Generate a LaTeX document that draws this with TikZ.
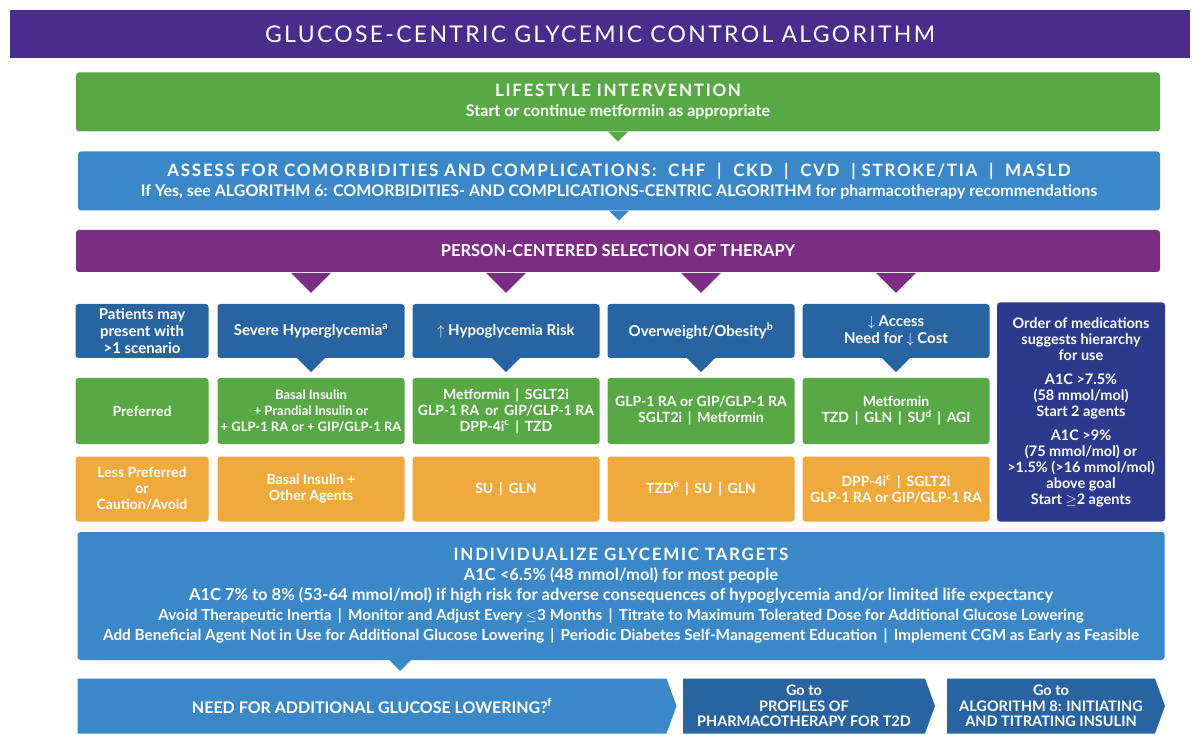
\documentclass[tikz,border=0pt]{standalone}
\usepackage{fontspec}
\setmainfont{Lato}
\newfontfamily\spaced[LetterSpace=10]{Lato}
\usetikzlibrary{shapes.symbols, positioning}
\definecolor{titlepurple}{HTML}{4A2C8C}
\definecolor{lifegreen}{HTML}{58A846}
\definecolor{midblue}{HTML}{3B88C8}
\definecolor{plum}{HTML}{7B2E84}
\definecolor{darkblue}{HTML}{2964A2}
\definecolor{navy}{HTML}{2C3A8E}
\definecolor{amber}{HTML}{EFA93D}
\tikzset{
  box/.style={rectangle, rounded corners=3pt, text=white, font=\bfseries\fontsize{14}{16}\selectfont, align=center, inner sep=0pt},
  band/.style={box, minimum width=1084pt},
  hdr/.style={box, fill=darkblue, minimum height=54pt, font=\bfseries\fontsize{15}{17}\selectfont},
  grn/.style={box, fill=lifegreen, minimum height=66pt},
  org/.style={box, fill=amber, minimum height=65pt},
  goarrow/.style={signal, signal to=east, signal pointer angle=140, text=white, font=\bfseries\fontsize{14.5}{15.5}\selectfont, align=center, inner sep=0pt, minimum height=55pt}
}
\newcommand{\notch}[3]{\fill[#1] (#2) ++(-#3,0) -- ++(#3,#3) -- ++(#3,-#3) -- cycle;}
\begin{document}
\begin{tikzpicture}[x=1pt, y=-1pt]
\useasboundingbox (0,0) rectangle (1200,735);
\fill[white] (0,0) rectangle (1200,735);

% Title and bands
\node (title) [box, rounded corners=0pt, fill=titlepurple, minimum width=1180pt, minimum height=48pt, font=\spaced\fontsize{23}{26}\selectfont] at (600,34) {GLUCOSE-CENTRIC GLYCEMIC CONTROL ALGORITHM};
\node (life) [band, fill=lifegreen, minimum height=59pt, font=\bfseries\fontsize{16}{18}\selectfont] at (618,102) {{\spaced\fontsize{17}{19}\selectfont LIFESTYLE INTERVENTION}\\[2pt] Start or continue metformin as appropriate};
\notch{lifegreen}{life.south}{10}
\node (assess) [band, fill=midblue, minimum height=59pt, minimum width=1082pt, font=\bfseries\fontsize{16}{18}\selectfont] at (619,181) {{\spaced\fontsize{17}{19}\selectfont ASSESS FOR COMORBIDITIES AND COMPLICATIONS:\ \ CHF \ | \ CKD \ | \ CVD \ | STROKE/TIA \ | \ MASLD}\\[2pt] If Yes, see ALGORITHM 6: COMORBIDITIES- AND COMPLICATIONS-CENTRIC ALGORITHM for pharmacotherapy recommendations};
\notch{midblue}{assess.south}{10}
\node (person) [band, fill=plum, minimum height=42pt, font=\bfseries\fontsize{16.5}{18}\selectfont] at (618,251) {PERSON-CENTERED SELECTION OF THERAPY};

% Scenario columns
\node (scen) [hdr, minimum width=133pt] at (142,331) {Patients may\\present with\\\textgreater1 scenario};
\node (hyper) [hdr, minimum width=187pt] at (311,331) {Severe Hyperglycemia\textsuperscript{a}};
\node (hypo) [hdr, minimum width=187pt] at (506,331) {$\uparrow$ Hypoglycemia Risk};
\node (obese) [hdr, minimum width=187pt] at (701,331) {Overweight/Obesity\textsuperscript{b}};
\node (cost) [hdr, minimum width=187pt] at (896,331) {$\downarrow$ Access\\Need for $\downarrow$ Cost};
\foreach \col in {hyper, hypo, obese, cost} {
  \fill[plum] (\col.north) ++(-20,-31) -- ++(20,20) -- ++(20,-20) -- cycle;
  \notch{darkblue}{\col.south}{14}
}

\node (pref) [grn, minimum width=133pt] at (142,411) {Preferred};
\node (hyperP) [grn, minimum width=187pt, font=\bfseries\fontsize{13}{16}\selectfont] at (311,411) {Basal Insulin\\+ Prandial Insulin or\\+ GLP-1 RA or + GIP/GLP-1 RA};
\node (hypoP) [grn, minimum width=187pt] at (506,411) {Metformin \,|\, SGLT2i\\GLP-1 RA \,or\, GIP/GLP-1 RA\\DPP-4i\textsuperscript{c} \,|\, TZD};
\node (obeseP) [grn, minimum width=187pt] at (701,411) {GLP-1 RA or GIP/GLP-1 RA\\SGLT2i \,|\, Metformin};
\node (costP) [grn, minimum width=187pt] at (896,411) {Metformin\\TZD \,|\, GLN \,|\, SU\textsuperscript{d} \,|\, AGI};

\node (less) [org, minimum width=133pt] at (142,489) {Less Preferred\\or\\Caution/Avoid};
\node (hyperL) [org, minimum width=187pt] at (311,489) {Basal Insulin +\\Other Agents};
\node (hypoL) [org, minimum width=187pt] at (506,489) {SU \,|\, GLN};
\node (obeseL) [org, minimum width=187pt] at (701,489) {TZD\textsuperscript{e} \,|\, SU \,|\, GLN};
\node (costL) [org, minimum width=187pt] at (896,489) {DPP-4i\textsuperscript{c} \,|\, SGLT2i\\GLP-1 RA or GIP/GLP-1 RA};

\node (order) [box, fill=navy, minimum width=168pt, minimum height=219pt, font=\bfseries\fontsize{14.5}{16}\selectfont] at (1081,412) {Order of medications\\suggests hierarchy\\for use\\[8pt] A1C \textgreater7.5\%\\(58 mmol/mol)\\Start 2 agents\\[8pt] A1C \textgreater9\%\\(75 mmol/mol) or\\\textgreater1.5\% (\textgreater16 mmol/mol)\\above goal\\Start $\geq$2 agents};

% Targets
\node (targets) [band, fill=midblue, minimum width=1087pt, minimum height=128pt, font=\bfseries\fontsize{16.5}{20}\selectfont] at (621,596) {{\spaced\fontsize{17}{20}\selectfont INDIVIDUALIZE GLYCEMIC TARGETS}\\ A1C \textless6.5\% (48 mmol/mol) for most people\\ A1C 7\% to 8\% (53-64 mmol/mol) if high risk for adverse consequences of hypoglycemia and/or limited life expectancy\\ {\fontsize{15.3}{20}\selectfont Avoid Therapeutic Inertia \,|\, Monitor and Adjust Every $\leq$3 Months \,|\, Titrate to Maximum Tolerated Dose for Additional Glucose Lowering}\\ {\fontsize{15.3}{20}\selectfont Add Beneficial Agent Not in Use for Additional Glucose Lowering \,|\, Periodic Diabetes Self-Management Education \,|\, Implement CGM as Early as Feasible}};
\fill[midblue] (400,659) -- (388,659) -- (400,671) -- (412,659) -- cycle;

% Next steps
\node (need) [goarrow, fill=midblue, minimum width=599pt, font=\bfseries\fontsize{16}{18}\selectfont] at (372,706) {NEED FOR ADDITIONAL GLUCOSE LOWERING?\textsuperscript{f}};
\node (profiles) [goarrow, fill=darkblue, minimum width=252pt] at (804,706) {Go to\\PROFILES OF\\PHARMACOTHERAPY FOR T2D};
\node (alg8) [goarrow, fill=darkblue, minimum width=218pt] at (1051,706) {Go to\\ALGORITHM 8: INITIATING\\AND TITRATING INSULIN};
\end{tikzpicture}
\end{document}
